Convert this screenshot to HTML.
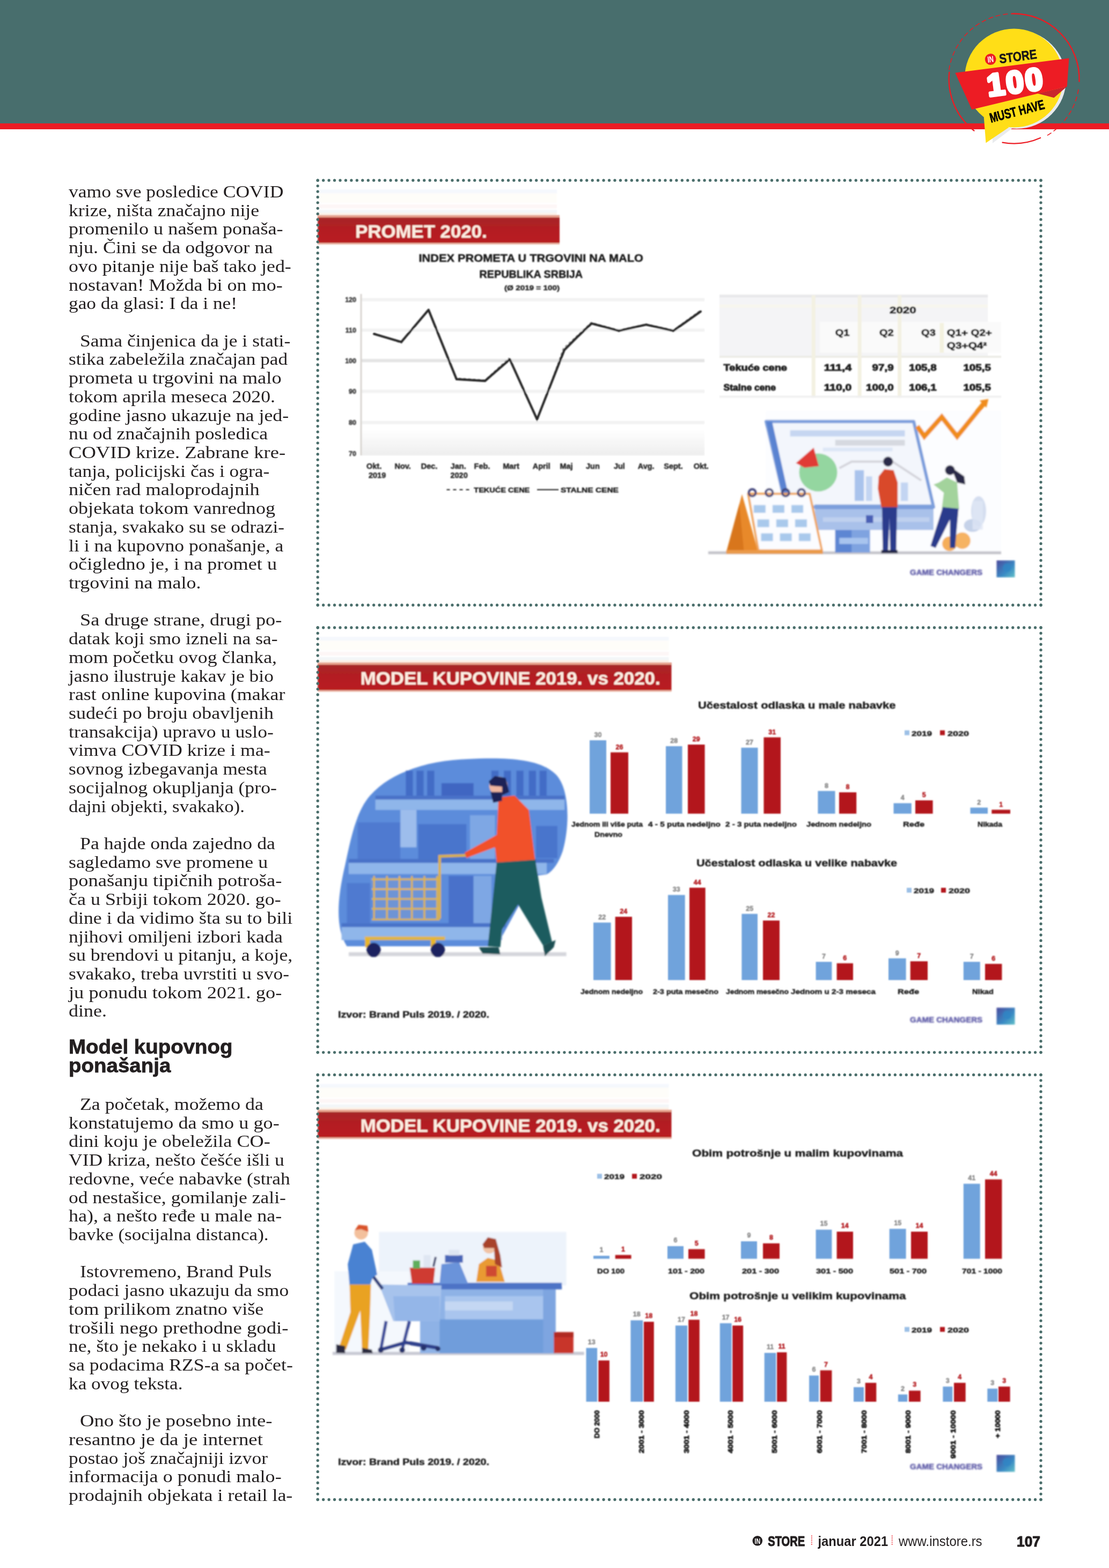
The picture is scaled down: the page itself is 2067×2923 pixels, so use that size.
<!DOCTYPE html>
<html lang="sr">
<head>
<meta charset="utf-8">
<title>IN STORE - januar 2021 - 107</title>
<style>
html,body{margin:0;padding:0;background:#fff;}
body{width:2067px;height:2923px;position:relative;overflow:hidden;font-family:"Liberation Serif",serif;color:#231f20;}
.hd{position:absolute;left:0;top:0;width:2067px;height:232px;background:#486e6d;}
.rb{position:absolute;left:0;top:230.3px;width:2067px;height:10.8px;background:#ec1c24;}
.l{position:absolute;white-space:pre;font-family:"Liberation Serif",serif;font-size:32.5px;line-height:40px;height:40px;color:#231f20;margin:0;transform-origin:0 0;}
.h{position:absolute;white-space:pre;font-family:"Liberation Sans",sans-serif;font-weight:bold;font-size:37.5px;line-height:44px;height:44px;color:#231f20;margin:0;transform-origin:0 0;-webkit-text-stroke:0.8px #231f20;}
.pn{position:absolute;left:0;top:0;}
.ft{position:absolute;white-space:pre;font-family:"Liberation Sans",sans-serif;color:#231f20;line-height:32px;height:32px;transform-origin:0 50%;}
svg text{white-space:pre;}
</style>
</head>
<body>
<div class="hd"></div>
<div class="rb"></div>

<div id="col">
<p class="l" style="left:127.6px;top:336.9px;transform:scaleX(1.0953)">vamo sve posledice COVID</p>
<p class="l" style="left:127.6px;top:371.6px;transform:scaleX(1.0992)">krize, ništa značajno nije</p>
<p class="l" style="left:127.6px;top:406.4px;transform:scaleX(1.1155)">promenilo u našem ponaša-</p>
<p class="l" style="left:127.6px;top:441.1px;transform:scaleX(1.1090)">nju. Čini se da odgovor na</p>
<p class="l" style="left:127.6px;top:475.8px;transform:scaleX(1.1021)">ovo pitanje nije baš tako jed-</p>
<p class="l" style="left:127.6px;top:510.5px;transform:scaleX(1.1101)">nostavan! Možda bi on mo-</p>
<p class="l" style="left:127.6px;top:545.2px;transform:scaleX(1.0876)">gao da glasi: I da i ne!</p>
<p class="l" style="left:148.6px;top:614.6px;transform:scaleX(1.0950)">Sama činjenica da je i stati-</p>
<p class="l" style="left:127.6px;top:649.4px;transform:scaleX(1.0847)">stika zabeležila značajan pad</p>
<p class="l" style="left:127.6px;top:684.1px;transform:scaleX(1.1231)">prometa u trgovini na malo</p>
<p class="l" style="left:127.6px;top:718.8px;transform:scaleX(1.0995)">tokom aprila meseca 2020.</p>
<p class="l" style="left:127.6px;top:753.5px;transform:scaleX(1.1032)">godine jasno ukazuje na jed-</p>
<p class="l" style="left:127.6px;top:788.2px;transform:scaleX(1.1024)">nu od značajnih posledica</p>
<p class="l" style="left:127.6px;top:822.9px;transform:scaleX(1.1252)">COVID krize. Zabrane kre-</p>
<p class="l" style="left:127.6px;top:857.6px;transform:scaleX(1.0882)">tanja, policijski čas i ogra-</p>
<p class="l" style="left:127.6px;top:892.4px;transform:scaleX(1.1197)">ničen rad maloprodajnih</p>
<p class="l" style="left:127.6px;top:927.1px;transform:scaleX(1.1109)">objekata tokom vanrednog</p>
<p class="l" style="left:127.6px;top:961.8px;transform:scaleX(1.0835)">stanja, svakako su se odrazi-</p>
<p class="l" style="left:127.6px;top:996.5px;transform:scaleX(1.0980)">li i na kupovno ponašanje, a</p>
<p class="l" style="left:127.6px;top:1031.2px;transform:scaleX(1.1137)">očigledno je, i na promet u</p>
<p class="l" style="left:127.6px;top:1065.9px;transform:scaleX(1.1081)">trgovini na malo.</p>
<p class="l" style="left:148.6px;top:1135.4px;transform:scaleX(1.1178)">Sa druge strane, drugi po-</p>
<p class="l" style="left:127.6px;top:1170.1px;transform:scaleX(1.0928)">datak koji smo izneli na sa-</p>
<p class="l" style="left:127.6px;top:1204.8px;transform:scaleX(1.1023)">mom početku ovog članka,</p>
<p class="l" style="left:127.6px;top:1239.5px;transform:scaleX(1.0905)">jasno ilustruje kakav je bio</p>
<p class="l" style="left:127.6px;top:1274.2px;transform:scaleX(1.1036)">rast online kupovina (makar</p>
<p class="l" style="left:127.6px;top:1308.9px;transform:scaleX(1.1047)">sudeći po broju obavljenih</p>
<p class="l" style="left:127.6px;top:1343.6px;transform:scaleX(1.0991)">transakcija) upravo u uslo-</p>
<p class="l" style="left:127.6px;top:1378.4px;transform:scaleX(1.1013)">vimva COVID krize i ma-</p>
<p class="l" style="left:127.6px;top:1413.1px;transform:scaleX(1.0834)">sovnog izbegavanja mesta</p>
<p class="l" style="left:127.6px;top:1447.8px;transform:scaleX(1.1023)">socijalnog okupljanja (pro-</p>
<p class="l" style="left:127.6px;top:1482.5px;transform:scaleX(1.0751)">dajni objekti, svakako).</p>
<p class="l" style="left:148.6px;top:1551.9px;transform:scaleX(1.1020)">Pa hajde onda zajedno da</p>
<p class="l" style="left:127.6px;top:1586.6px;transform:scaleX(1.1024)">sagledamo sve promene u</p>
<p class="l" style="left:127.6px;top:1621.3px;transform:scaleX(1.1229)">ponašanju tipičnih potroša-</p>
<p class="l" style="left:127.6px;top:1656.1px;transform:scaleX(1.1069)">ča u Srbiji tokom 2020. go-</p>
<p class="l" style="left:127.6px;top:1690.8px;transform:scaleX(1.1032)">dine i da vidimo šta su to bili</p>
<p class="l" style="left:127.6px;top:1725.5px;transform:scaleX(1.1018)">njihovi omiljeni izbori kada</p>
<p class="l" style="left:127.6px;top:1760.2px;transform:scaleX(1.1034)">su brendovi u pitanju, a koje,</p>
<p class="l" style="left:127.6px;top:1794.9px;transform:scaleX(1.0922)">svakako, treba uvrstiti u svo-</p>
<p class="l" style="left:127.6px;top:1829.6px;transform:scaleX(1.1198)">ju ponudu tokom 2021. go-</p>
<p class="l" style="left:127.6px;top:1864.3px;transform:scaleX(1.1062)">dine.</p>
<p class="l" style="left:148.6px;top:2037.9px;transform:scaleX(1.1011)">Za početak, možemo da</p>
<p class="l" style="left:127.6px;top:2072.6px;transform:scaleX(1.1155)">konstatujemo da smo u go-</p>
<p class="l" style="left:127.6px;top:2107.3px;transform:scaleX(1.1130)">dini koju je obeležila CO-</p>
<p class="l" style="left:127.6px;top:2142.1px;transform:scaleX(1.0969)">VID kriza, nešto češće išli u</p>
<p class="l" style="left:127.6px;top:2176.8px;transform:scaleX(1.0890)">redovne, veće nabavke (strah</p>
<p class="l" style="left:127.6px;top:2211.5px;transform:scaleX(1.0945)">od nestašice, gomilanje zali-</p>
<p class="l" style="left:127.6px;top:2246.2px;transform:scaleX(1.1091)">ha), a nešto ređe u male na-</p>
<p class="l" style="left:127.6px;top:2280.9px;transform:scaleX(1.0780)">bavke (socijalna distanca).</p>
<p class="l" style="left:148.6px;top:2350.3px;transform:scaleX(1.1084)">Istovremeno, Brand Puls</p>
<p class="l" style="left:127.6px;top:2385.1px;transform:scaleX(1.0925)">podaci jasno ukazuju da smo</p>
<p class="l" style="left:127.6px;top:2419.8px;transform:scaleX(1.1152)">tom prilikom znatno više</p>
<p class="l" style="left:127.6px;top:2454.5px;transform:scaleX(1.1316)">trošili nego prethodne godi-</p>
<p class="l" style="left:127.6px;top:2489.2px;transform:scaleX(1.0951)">ne, što je nekako i u skladu</p>
<p class="l" style="left:127.6px;top:2523.9px;transform:scaleX(1.1025)">sa podacima RZS-a sa počet-</p>
<p class="l" style="left:127.6px;top:2558.6px;transform:scaleX(1.0850)">ka ovog teksta.</p>
<p class="l" style="left:148.6px;top:2628.1px;transform:scaleX(1.1280)">Ono što je posebno inte-</p>
<p class="l" style="left:127.6px;top:2662.8px;transform:scaleX(1.1329)">resantno je da je internet</p>
<p class="l" style="left:127.6px;top:2697.5px;transform:scaleX(1.0906)">postao još značajniji izvor</p>
<p class="l" style="left:127.6px;top:2732.2px;transform:scaleX(1.1127)">informacija o ponudi malo-</p>
<p class="l" style="left:127.6px;top:2766.9px;transform:scaleX(1.1063)">prodajnih objekata i retail la-</p>
</div>
<h2 class="h" style="left:128.4px;top:1929.0px;transform:scaleX(1.0255)">Model kupovnog</h2>
<h2 class="h" style="left:128.4px;top:1963.9px;transform:scaleX(1.0260)">ponašanja</h2>
<svg class="pn" width="2067" height="2923" viewBox="0 0 2067 2923">
<path d="M1768.8 130.5A122 122 0 0 1 1881.1 25.8" fill="none" stroke="#ec1c24" stroke-width="1.5" stroke-dasharray="9 5"/>
<path d="M2010.1 166.6A122 122 0 0 1 1950.6 253.2" fill="none" stroke="#ec1c24" stroke-width="1.5" stroke-dasharray="9 5"/>
<path d="M1885.3 25.6A122 122 0 0 1 2011.5 151.8" fill="none" stroke="#ec1c24" stroke-width="2.4" stroke-linecap="round"/>
<path d="M1939.2 257.0A122 122 0 0 1 1868.4 265.6" fill="none" stroke="#ec1c24" stroke-width="2.2" stroke-linecap="round"/>
<path d="M1815.5 243.6A122 122 0 0 1 1769.3 134.7" fill="none" stroke="#ec1c24" stroke-width="2.4" stroke-linecap="round"/>
<circle cx="1895" cy="148" r="92" fill="#e9ebee"/>
<polygon points="1850.8,221.7 1849.9,266.9 1887.8,238.3" fill="#e9ebee"/>
<circle cx="1890" cy="145.4" r="92" fill="#ffde17"/>
<polygon points="1833.3,212.4 1837.5,266.4 1880.4,237.4" fill="#ffde17"/>
<polygon points="1934.0,174.2 1964.4,182.3 1989.0,161.1" fill="#c9252c"/>
<polygon points="1780.3,135.8 1992.5,108.4 1988.8,161.3 1811.3,204.3" fill="#ed1c24"/>
<g transform="rotate(-7 1846.2 110.5)"><circle cx="1846.2" cy="110.5" r="10.4" fill="#ed1c24"/><text x="1846.2" y="116.1" font-family="Liberation Sans, sans-serif" font-weight="bold" font-size="16" fill="#fff" text-anchor="middle" transform="translate(1846.2 0) scale(0.72 1) translate(-1846.2 0)">IN</text></g>
<text transform="translate(1863.4 118.2) rotate(-7.5) scale(0.84 1)" font-family="Liberation Sans, sans-serif" font-weight="bold" font-size="24.5" fill="#1a1718" stroke="#1a1718" stroke-width="0.6">STORE</text>
<text transform="translate(1842.5 179.6) rotate(-7.5) scale(1.0 1)" font-family="Liberation Sans, sans-serif" font-weight="bold" font-size="58" fill="#fff" stroke="#fff" stroke-width="5.5" stroke-linejoin="round" letter-spacing="3.5">100</text>
<text transform="translate(1847.1 228.7) rotate(-14.5) scale(0.72 1)" font-family="Liberation Sans, sans-serif" font-weight="bold" font-size="25" fill="#000" stroke="#000" stroke-width="0.7">MUST HAVE</text>
</svg>
<svg class="pn" width="2067" height="2923" viewBox="0 0 2067 2923" font-family="Liberation Sans, sans-serif">
<defs>
<filter id="b1" x="-5%" y="-5%" width="110%" height="110%"><feGaussianBlur stdDeviation="1.1"/></filter>
<filter id="b2" x="-5%" y="-5%" width="110%" height="110%"><feGaussianBlur stdDeviation="1.8"/></filter>
<filter id="b0" x="-5%" y="-5%" width="110%" height="110%"><feGaussianBlur stdDeviation="0.7"/></filter>
<linearGradient id="bn" x1="0" y1="0" x2="0" y2="1"><stop offset="0" stop-color="#a4282a"/><stop offset="0.5" stop-color="#b41d22"/><stop offset="1" stop-color="#b9201f"/></linearGradient>
<linearGradient id="gb" x1="0" y1="0" x2="0" y2="1"><stop offset="0" stop-color="#ffffff"/><stop offset="1" stop-color="#eeeeee"/></linearGradient>
<linearGradient id="ip" x1="0" y1="0" x2="1" y2="1"><stop offset="0" stop-color="#4a4a9c"/><stop offset="0.6" stop-color="#3a8ac4"/><stop offset="1" stop-color="#62c0c8"/></linearGradient>
</defs>
<g filter="url(#b1)">
<rect x="592.2" y="353.2" width="445.8" height="7.0" fill="#f5f8fd" />
<rect x="592.2" y="360.2" width="445.8" height="18.0" fill="#fefdf9" />
<rect x="592.2" y="381.2" width="445.8" height="7.0" fill="#fdf6f6" />
<rect x="592.2" y="391.2" width="445.8" height="6.0" fill="#f3f6f8" />
<rect x="592.2" y="397.2" width="445.8" height="4.2" fill="#fdf1e6" />
<rect x="592.2" y="401.4" width="450.8" height="52.8" fill="url(#bn)" />
<rect x="592.2" y="401.4" width="450.8" height="4.0" fill="#e9a48e" />
<rect x="592.2" y="452.7" width="450.8" height="3.0" fill="#e9b3a2" />
<text x="662.2" y="442.5" font-size="32.5" font-weight="bold" fill="#fdeee2" text-anchor="start" textLength="245.4" lengthAdjust="spacingAndGlyphs" stroke="#fdeee2" stroke-width="0.3" >PROMET 2020.</text>
</g>
<g filter="url(#b1)">
<rect x="674.0" y="555.6" width="639.0" height="6.0" fill="#f2f2f2" />
<rect x="674.0" y="612.4" width="639.0" height="6.0" fill="#f2f2f2" />
<rect x="674.0" y="669.2" width="639.0" height="6.0" fill="#e4e4e4" />
<rect x="674.0" y="726.5" width="639.0" height="6.0" fill="#f2f2f2" />
<rect x="674.0" y="784.7" width="639.0" height="6.0" fill="#f2f2f2" />
<rect x="674.0" y="842.0" width="639.0" height="6.0" fill="#f2f2f2" />
<rect x="674.0" y="800.0" width="639.0" height="49.0" fill="url(#gb)" />
<rect x="671.5" y="548.0" width="3.0" height="301.0" fill="#d8d4d0" />
<text x="664.0" y="563.1" font-size="12.5" font-weight="bold" fill="#3a3a3a" text-anchor="end" stroke="#3a3a3a" stroke-width="0.5" >120</text>
<text x="664.0" y="619.9" font-size="12.5" font-weight="bold" fill="#3a3a3a" text-anchor="end" stroke="#3a3a3a" stroke-width="0.5" >110</text>
<text x="664.0" y="676.7" font-size="12.5" font-weight="bold" fill="#3a3a3a" text-anchor="end" stroke="#3a3a3a" stroke-width="0.5" >100</text>
<text x="664.0" y="734.0" font-size="12.5" font-weight="bold" fill="#3a3a3a" text-anchor="end" stroke="#3a3a3a" stroke-width="0.5" >90</text>
<text x="664.0" y="792.2" font-size="12.5" font-weight="bold" fill="#3a3a3a" text-anchor="end" stroke="#3a3a3a" stroke-width="0.5" >80</text>
<text x="664.0" y="849.5" font-size="12.5" font-weight="bold" fill="#3a3a3a" text-anchor="end" stroke="#3a3a3a" stroke-width="0.5" >70</text>
<polyline points="697.1,620.5 747.9,639.9 798.7,576.2 849.5,704.6 904.0,708.3 948.4,667.6 1001.0,784.9 1050.0,649.2 1074.0,627.0 1101.7,601.1 1153.4,615.0 1204.2,603.9 1255.0,615.0 1305.8,578.0" fill="none" stroke="#555" stroke-width="1.6" stroke-dasharray="5 4" stroke-linejoin="round" opacity="0.75"/>
<polyline points="697.1,622.4 747.9,637.6 798.7,577.6 850.9,706.9 904.0,710.1 950.2,669.9 1001.0,781.7 1051.8,652.4 1074.9,629.3 1102.6,603.0 1153.4,616.8 1204.2,605.3 1255.0,616.8 1305.8,580.8" fill="none" stroke="#262626" stroke-width="4.2" stroke-linejoin="round" stroke-linecap="round"/>
<text x="780.5" y="487.5" font-size="19.5" font-weight="bold" fill="#1d1d1d" text-anchor="start" textLength="418.5" lengthAdjust="spacingAndGlyphs" stroke="#1d1d1d" stroke-width="0.5" >INDEX PROMETA U TRGOVINI NA MALO</text>
<text x="893.6" y="517.5" font-size="19.5" font-weight="bold" fill="#1d1d1d" text-anchor="start" textLength="192.5" lengthAdjust="spacingAndGlyphs" stroke="#1d1d1d" stroke-width="0.5" >REPUBLIKA SRBIJA</text>
<text x="940.0" y="540.5" font-size="12.5" font-weight="bold" fill="#2a2a2a" text-anchor="start" textLength="103.0" lengthAdjust="spacingAndGlyphs" stroke="#2a2a2a" stroke-width="0.5" >(Ø 2019 = 100)</text>
<text x="697.1" y="874.1" font-size="14.5" font-weight="bold" fill="#2a2a2a" text-anchor="middle" stroke="#2a2a2a" stroke-width="0.5" >Okt.</text>
<text x="750.7" y="874.1" font-size="14.5" font-weight="bold" fill="#2a2a2a" text-anchor="middle" stroke="#2a2a2a" stroke-width="0.5" >Nov.</text>
<text x="800.1" y="874.1" font-size="14.5" font-weight="bold" fill="#2a2a2a" text-anchor="middle" stroke="#2a2a2a" stroke-width="0.5" >Dec.</text>
<text x="854.2" y="874.1" font-size="14.5" font-weight="bold" fill="#2a2a2a" text-anchor="middle" stroke="#2a2a2a" stroke-width="0.5" >Jan.</text>
<text x="898.5" y="874.1" font-size="14.5" font-weight="bold" fill="#2a2a2a" text-anchor="middle" stroke="#2a2a2a" stroke-width="0.5" >Feb.</text>
<text x="952.5" y="874.1" font-size="14.5" font-weight="bold" fill="#2a2a2a" text-anchor="middle" stroke="#2a2a2a" stroke-width="0.5" >Mart</text>
<text x="1009.3" y="874.1" font-size="14.5" font-weight="bold" fill="#2a2a2a" text-anchor="middle" stroke="#2a2a2a" stroke-width="0.5" >April</text>
<text x="1055.5" y="874.1" font-size="14.5" font-weight="bold" fill="#2a2a2a" text-anchor="middle" stroke="#2a2a2a" stroke-width="0.5" >Maj</text>
<text x="1104.9" y="874.1" font-size="14.5" font-weight="bold" fill="#2a2a2a" text-anchor="middle" stroke="#2a2a2a" stroke-width="0.5" >Jun</text>
<text x="1154.4" y="874.1" font-size="14.5" font-weight="bold" fill="#2a2a2a" text-anchor="middle" stroke="#2a2a2a" stroke-width="0.5" >Jul</text>
<text x="1204.2" y="874.1" font-size="14.5" font-weight="bold" fill="#2a2a2a" text-anchor="middle" stroke="#2a2a2a" stroke-width="0.5" >Avg.</text>
<text x="1255.0" y="874.1" font-size="14.5" font-weight="bold" fill="#2a2a2a" text-anchor="middle" stroke="#2a2a2a" stroke-width="0.5" >Sept.</text>
<text x="1306.8" y="874.1" font-size="14.5" font-weight="bold" fill="#2a2a2a" text-anchor="middle" stroke="#2a2a2a" stroke-width="0.5" >Okt.</text>
<text x="703.1" y="891.2" font-size="14.5" font-weight="bold" fill="#2a2a2a" text-anchor="middle" stroke="#2a2a2a" stroke-width="0.5" >2019</text>
<text x="855.6" y="891.2" font-size="14.5" font-weight="bold" fill="#2a2a2a" text-anchor="middle" stroke="#2a2a2a" stroke-width="0.5" >2020</text>
<path d="M832.5 912.9h42" stroke="#333" stroke-width="2.2" stroke-dasharray="6 6" fill="none"/>
<text x="883.3" y="917.9" font-size="13.5" font-weight="bold" fill="#222" text-anchor="start" textLength="104.0" lengthAdjust="spacingAndGlyphs" stroke="#222" stroke-width="0.5" >TEKUĆE CENE</text>
<path d="M1001.0 912.9h40" stroke="#333" stroke-width="2.2" fill="none"/>
<text x="1044.9" y="917.9" font-size="13.5" font-weight="bold" fill="#222" text-anchor="start" textLength="108.0" lengthAdjust="spacingAndGlyphs" stroke="#222" stroke-width="0.5" >STALNE CENE</text>
</g>
<g filter="url(#b1)">
<rect x="1341.0" y="548.6" width="500.2" height="114.5" fill="#f4f4f6" />
<rect x="1341.0" y="549.8" width="500.2" height="4.6" fill="#e8e8ea" />
<rect x="1341.0" y="567.7" width="500.2" height="5.7" fill="#f8f6ee" />
<rect x="1528.1" y="600.2" width="337.9" height="57.3" fill="#fafafa" />
<rect x="1341.0" y="663.2" width="525.0" height="3.8" fill="#ecebe6" />
<rect x="1512.8" y="550.5" width="6.9" height="190.9" fill="#f3f1e2" />
<rect x="1598.7" y="550.5" width="6.9" height="190.9" fill="#f3f1e2" />
<rect x="1673.2" y="550.5" width="6.9" height="190.9" fill="#f3f1e2" />
<rect x="1751.5" y="602.1" width="7.6" height="55.4" fill="#f3f1df" />
<rect x="1341.0" y="737.6" width="525.0" height="3.8" fill="#f0f0f0" />
<text x="1707.6" y="584.0" font-size="16.5" font-weight="bold" fill="#1c1c1c" text-anchor="end" textLength="49.6" lengthAdjust="spacingAndGlyphs" stroke="#1c1c1c" stroke-width="0.9" >2020</text>
<text x="1583.5" y="626.0" font-size="16.5" font-weight="bold" fill="#1c1c1c" text-anchor="end" textLength="26.7" lengthAdjust="spacingAndGlyphs" stroke="#1c1c1c" stroke-width="0.9" >Q1</text>
<text x="1665.6" y="626.0" font-size="16.5" font-weight="bold" fill="#1c1c1c" text-anchor="end" textLength="26.7" lengthAdjust="spacingAndGlyphs" stroke="#1c1c1c" stroke-width="0.9" >Q2</text>
<text x="1743.8" y="626.0" font-size="16.5" font-weight="bold" fill="#1c1c1c" text-anchor="end" textLength="26.7" lengthAdjust="spacingAndGlyphs" stroke="#1c1c1c" stroke-width="0.9" >Q3</text>
<text x="1848.8" y="626.0" font-size="16.5" font-weight="bold" fill="#1c1c1c" text-anchor="end" textLength="84.0" lengthAdjust="spacingAndGlyphs" stroke="#1c1c1c" stroke-width="0.9" >Q1+ Q2+</text>
<text x="1839.3" y="650.0" font-size="16.5" font-weight="bold" fill="#1c1c1c" text-anchor="end" textLength="74.5" lengthAdjust="spacingAndGlyphs" stroke="#1c1c1c" stroke-width="0.9" >Q3+Q4²</text>
<text x="1348.6" y="690.9" font-size="16.5" font-weight="bold" fill="#1c1c1c" text-anchor="start" textLength="118.4" lengthAdjust="spacingAndGlyphs" stroke="#1c1c1c" stroke-width="0.9" >Tekuće cene</text>
<text x="1348.6" y="727.5" font-size="16.5" font-weight="bold" fill="#1c1c1c" text-anchor="start" textLength="97.4" lengthAdjust="spacingAndGlyphs" stroke="#1c1c1c" stroke-width="0.9" >Stalne cene</text>
<text x="1587.3" y="690.9" font-size="16.5" font-weight="bold" fill="#1c1c1c" text-anchor="end" textLength="51.5" lengthAdjust="spacingAndGlyphs" stroke="#1c1c1c" stroke-width="0.9" >111,4</text>
<text x="1587.3" y="727.5" font-size="16.5" font-weight="bold" fill="#1c1c1c" text-anchor="end" textLength="51.5" lengthAdjust="spacingAndGlyphs" stroke="#1c1c1c" stroke-width="0.9" >110,0</text>
<text x="1665.6" y="690.9" font-size="16.5" font-weight="bold" fill="#1c1c1c" text-anchor="end" textLength="40.1" lengthAdjust="spacingAndGlyphs" stroke="#1c1c1c" stroke-width="0.9" >97,9</text>
<text x="1665.6" y="727.5" font-size="16.5" font-weight="bold" fill="#1c1c1c" text-anchor="end" textLength="51.5" lengthAdjust="spacingAndGlyphs" stroke="#1c1c1c" stroke-width="0.9" >100,0</text>
<text x="1745.7" y="690.9" font-size="16.5" font-weight="bold" fill="#1c1c1c" text-anchor="end" textLength="51.5" lengthAdjust="spacingAndGlyphs" stroke="#1c1c1c" stroke-width="0.9" >105,8</text>
<text x="1745.7" y="727.5" font-size="16.5" font-weight="bold" fill="#1c1c1c" text-anchor="end" textLength="51.5" lengthAdjust="spacingAndGlyphs" stroke="#1c1c1c" stroke-width="0.9" >106,1</text>
<text x="1846.9" y="690.9" font-size="16.5" font-weight="bold" fill="#1c1c1c" text-anchor="end" textLength="51.5" lengthAdjust="spacingAndGlyphs" stroke="#1c1c1c" stroke-width="0.9" >105,5</text>
<text x="1846.9" y="727.5" font-size="16.5" font-weight="bold" fill="#1c1c1c" text-anchor="end" textLength="51.5" lengthAdjust="spacingAndGlyphs" stroke="#1c1c1c" stroke-width="0.9" >105,5</text>
</g>
<g filter="url(#b2)">
<rect x="1426.9" y="765.8" width="439.1" height="267.3" fill="#fcfdff" />
<rect x="1320.0" y="1027.8" width="546.0" height="5.3" fill="#c4c4ca" />
<polygon points="1428.1,785.7 1703.0,785.7 1740.0,945.3 1465.1,945.3" fill="#f3f6fc" stroke="#7b9edc" stroke-width="6" stroke-linejoin="round"/>
<polygon points="1428.1,785.7 1439.1,785.7 1474.6,945.3 1463.6,945.3" fill="#5a83d1" />
<rect x="1472.7" y="802.1" width="213.8" height="11.5" fill="#c6d6f1" />
<rect x="1556.7" y="820.0" width="129.8" height="10.7" fill="#d6d9e0" />
<rect x="1533.8" y="834.5" width="129.8" height="6.9" fill="#dde6f6" />
<rect x="1518.5" y="940.7" width="221.5" height="47.3" fill="#a9c1ea" />
<rect x="1518.5" y="940.7" width="221.5" height="8.4" fill="#7c9fdc" />
<rect x="1533.8" y="964.4" width="198.5" height="8.4" fill="#bfd0ef" />
<rect x="1614.0" y="960.5" width="13.4" height="14.5" fill="#4a5fb5" />
<rect x="1556.7" y="988.0" width="64.9" height="42.0" fill="#7fa3e0" />
<rect x="1556.7" y="988.0" width="30.5" height="42.0" fill="#5d86d3" />
<rect x="1564.4" y="1002.6" width="53.5" height="11.5" fill="#a8c4ee" />
<rect x="1593.0" y="876.5" width="17.2" height="57.3" fill="#a9c3ec" />
<rect x="1614.0" y="888.0" width="11.5" height="45.8" fill="#c3d5f2" />
<rect x="1678.9" y="899.5" width="13.4" height="34.4" fill="#c3d5f2" />
<polyline points="1564.4,872.7 1587.3,860.5 1663.6,860.5 1717.1,895.6" fill="none" stroke="#d3d3da" stroke-width="4" />
<circle cx="1525.0" cy="880.7" r="35.5" fill="#94d6a0" />
<polygon points="1483.4,863.2 1516.6,834.5 1526.2,868.9 1499.5,872.0" fill="#e03a36" />
<polygon points="1353.6,1030.0 1383.0,921.2 1413.5,1030.0" fill="#e8892b" />
<polygon points="1353.6,1030.0 1378.0,939.5 1386.8,1030.0" fill="#d8761c" />
<polygon points="1394.5,920.5 1509.0,920.5 1531.9,1026.2 1413.5,1026.2" fill="#fbfcff" stroke="#f0a558" stroke-width="4" stroke-linejoin="round"/>
<rect x="1353.6" y="1025.5" width="180.2" height="6.9" fill="#ea9a4a" />
<rect x="1404.8" y="941.5" width="22.1" height="14.5" fill="#a9c9ec" />
<rect x="1439.9" y="941.5" width="22.1" height="14.5" fill="#a9c9ec" />
<rect x="1475.0" y="941.5" width="22.1" height="14.5" fill="#a9c9ec" />
<rect x="1411.6" y="968.2" width="22.1" height="14.5" fill="#a9c9ec" />
<rect x="1446.8" y="968.2" width="22.1" height="14.5" fill="#a9c9ec" />
<rect x="1481.9" y="968.2" width="22.1" height="14.5" fill="#a9c9ec" />
<rect x="1418.5" y="994.2" width="22.1" height="14.5" fill="#a9c9ec" />
<rect x="1453.6" y="994.2" width="22.1" height="14.5" fill="#a9c9ec" />
<rect x="1488.8" y="994.2" width="22.1" height="14.5" fill="#a9c9ec" />
<circle cx="1402.1" cy="918.5" r="6.5" fill="none" stroke="#3c3f78" stroke-width="4"/>
<circle cx="1433.8" cy="918.5" r="6.5" fill="none" stroke="#3c3f78" stroke-width="4"/>
<circle cx="1464.3" cy="918.5" r="6.5" fill="none" stroke="#3c3f78" stroke-width="4"/>
<circle cx="1493.7" cy="918.5" r="6.5" fill="none" stroke="#3c3f78" stroke-width="4"/>
<ellipse cx="1824.0" cy="952.9" rx="14.0" ry="28.0" fill="#c3d0ea" opacity="0.7"/>
<ellipse cx="1812.6" cy="979.6" rx="16.0" ry="12.0" fill="#aebfe0" opacity="0.7"/>
<circle cx="1769.8" cy="1013.6" r="13.7" fill="#f4a548" opacity="0.9"/>
<circle cx="1793.5" cy="1007.9" r="15.3" fill="#f5ab52" opacity="0.9"/>
<rect x="1812.6" y="933.8" width="19.1" height="53.5" fill="#dfe6f5" opacity="0.8"/>
<circle cx="1655.2" cy="860.5" r="9.2" fill="#2b2c48" />
<polygon points="1637.7,888.0 1648.4,874.6 1665.6,876.5 1673.2,899.5 1673.2,946.0 1642.6,946.0 1636.2,910.9" fill="#d94a2c" />
<polygon points="1643.8,945.3 1672.0,945.3 1670.5,1029.3 1659.1,1029.3 1657.9,964.4 1655.2,1029.3 1645.3,1029.3" fill="#2b3b8c" />
<rect x="1642.6" y="1025.5" width="30.5" height="5.7" fill="#23254a" />
<circle cx="1770.6" cy="876.5" r="9.2" fill="#2b2c48" />
<polygon points="1772.5,870.8 1797.3,888.0 1799.2,903.3 1783.9,899.5" fill="#2b2c48" />
<polygon points="1749.6,899.5 1764.8,889.9 1783.9,899.5 1787.7,949.1 1755.3,949.1 1759.1,918.5 1740.0,903.3" fill="#a3d39c" />
<polygon points="1757.2,945.3 1786.6,948.3 1780.1,1021.6 1770.6,1021.6 1770.6,968.2 1743.8,1021.6 1734.3,1017.8" fill="#2b3b8c" />
<polyline points="1709.5,794.5 1722.8,813.5 1755.3,777.3 1783.9,813.5 1833.6,752.5" fill="none" stroke="#f08c1e" stroke-width="9" stroke-linejoin="miter"/>
<polygon points="1825.9,746.7 1842.3,743.7 1838.5,760.1" fill="#f08c1e" />
</g>
<g filter="url(#b2)">
<text x="1696.0" y="1071.7" font-size="15.5" font-weight="bold" fill="#5b58a6" text-anchor="start" textLength="135.0" lengthAdjust="spacingAndGlyphs" stroke="#5b58a6" stroke-width="0.5" >GAME CHANGERS</text>
<rect x="1857.5" y="1044.7" width="34.0" height="31.5" fill="url(#ip)" />
<circle cx="1877.0" cy="1058.2" r="8.0" fill="#2f86c4" opacity="0.8"/>
</g>
<g filter="url(#b1)">
<rect x="592.2" y="1187.0" width="654.3" height="7.0" fill="#f5f8fd" />
<rect x="592.2" y="1194.0" width="654.3" height="18.0" fill="#fefdf9" />
<rect x="592.2" y="1215.0" width="654.3" height="7.0" fill="#fdf6f6" />
<rect x="592.2" y="1225.0" width="654.3" height="6.0" fill="#f3f6f8" />
<rect x="592.2" y="1231.0" width="654.3" height="4.2" fill="#fdf1e6" />
<rect x="592.2" y="1235.2" width="659.3" height="52.8" fill="url(#bn)" />
<rect x="592.2" y="1235.2" width="659.3" height="4.0" fill="#e9a48e" />
<rect x="592.2" y="1286.5" width="659.3" height="3.0" fill="#e9b3a2" />
<text x="671.7" y="1276.3" font-size="32.5" font-weight="bold" fill="#fdeee2" text-anchor="start" textLength="559.0" lengthAdjust="spacingAndGlyphs" stroke="#fdeee2" stroke-width="0.3" >MODEL KUPOVINE 2019. vs 2020.</text>
</g>
<g filter="url(#b2)">
<path d="M689.8 1483.1 C729.7 1436.6 806.1 1416.6 872.6 1415.0 C939.1 1411.6 1005.6 1413.3 1035.6 1443.2 C1062.2 1469.8 1062.2 1539.7 1048.9 1586.2 C1042.2 1606.2 1032.2 1622.8 1018.9 1630.1 L997.3 1632.8 L925.8 1764.1 L646.5 1764.1 C626.6 1732.5 626.6 1682.6 643.2 1612.8 C653.2 1566.3 663.2 1513.1 689.8 1483.1Z" fill="#5c8cdb"/>
<rect x="649.9" y="1775.1" width="405.7" height="7.3" fill="#d5d6dc" />
<rect x="699.7" y="1489.8" width="352.5" height="20.0" fill="#8fb6ea" />
<rect x="649.9" y="1607.8" width="369.1" height="21.6" fill="#8fb6ea" />
<rect x="636.6" y="1727.5" width="299.3" height="24.9" fill="#8fb6ea" />
<rect x="699.7" y="1483.1" width="352.5" height="7.3" fill="#4a72c8" />
<rect x="649.9" y="1601.2" width="382.4" height="7.3" fill="#4a72c8" />
<rect x="636.6" y="1720.9" width="305.9" height="7.3" fill="#4a72c8" />
<rect x="756.3" y="1436.6" width="13.3" height="46.6" fill="#426cc6" />
<rect x="776.2" y="1436.6" width="13.3" height="46.6" fill="#426cc6" />
<rect x="796.2" y="1436.6" width="13.3" height="46.6" fill="#426cc6" />
<rect x="915.9" y="1436.6" width="13.3" height="46.6" fill="#426cc6" />
<rect x="939.1" y="1436.6" width="13.3" height="46.6" fill="#426cc6" />
<rect x="962.4" y="1436.6" width="13.3" height="46.6" fill="#426cc6" />
<rect x="985.7" y="1436.6" width="13.3" height="46.6" fill="#426cc6" />
<rect x="1005.6" y="1436.6" width="13.3" height="46.6" fill="#426cc6" />
<rect x="822.8" y="1459.9" width="59.9" height="23.3" fill="#3f66c2" />
<rect x="666.5" y="1533.0" width="79.8" height="68.2" fill="#4f7ad0" />
<rect x="746.3" y="1509.7" width="29.9" height="69.8" fill="#9dbdec" />
<rect x="779.5" y="1536.3" width="89.8" height="64.8" fill="#4a74cc" />
<rect x="876.0" y="1519.7" width="46.6" height="81.5" fill="#7ea7e4" />
<rect x="999.0" y="1539.7" width="39.9" height="59.9" fill="#4a74cc" />
<rect x="646.5" y="1646.1" width="43.2" height="74.8" fill="#4f7ad0" />
<rect x="836.1" y="1632.8" width="46.6" height="88.1" fill="#4871ca" />
<rect x="882.6" y="1632.8" width="33.3" height="88.1" fill="#7ea7e4" />
<polygon points="689.8,1636.1 822.8,1636.1 817.8,1714.2 701.4,1714.2" fill="#7d9ad0" opacity="0.55"/>
<rect x="693.1" y="1637.7" width="126.4" height="3.0" fill="#e3b63a" />
<rect x="693.1" y="1656.0" width="126.4" height="3.0" fill="#e3b63a" />
<rect x="693.1" y="1674.3" width="126.4" height="3.0" fill="#e3b63a" />
<rect x="693.1" y="1692.6" width="126.4" height="3.0" fill="#e3b63a" />
<rect x="693.1" y="1712.6" width="126.4" height="3.0" fill="#e3b63a" />
<rect x="695.7" y="1632.8" width="3.0" height="81.5" fill="#e3b63a" />
<rect x="719.7" y="1632.8" width="3.0" height="81.5" fill="#e3b63a" />
<rect x="743.0" y="1632.8" width="3.0" height="81.5" fill="#e3b63a" />
<rect x="766.2" y="1632.8" width="3.0" height="81.5" fill="#e3b63a" />
<rect x="789.5" y="1632.8" width="3.0" height="81.5" fill="#e3b63a" />
<rect x="813.4" y="1632.8" width="3.0" height="81.5" fill="#e3b63a" />
<polyline points="819.4,1712.6 819.4,1596.2 869.3,1594.5" fill="none" stroke="#d9b04a" stroke-width="5" />
<rect x="679.8" y="1745.8" width="149.6" height="6.7" fill="#e0b545" />
<rect x="680.4" y="1749.1" width="9.3" height="16.6" fill="#e8b62c" />
<rect x="802.8" y="1749.1" width="9.3" height="16.6" fill="#e8b62c" />
<circle cx="696.4" cy="1770.8" r="13.3" fill="#1c2460" />
<circle cx="816.1" cy="1770.8" r="13.3" fill="#1c2460" />
<polygon points="925.8,1606.2 997.3,1599.5 1009.0,1672.7 1028.9,1755.8 1012.3,1762.4 965.7,1686.0 935.8,1732.5 932.5,1765.8 909.2,1764.1 917.5,1686.0" fill="#1c5c5e" />
<polygon points="892.6,1765.8 929.2,1765.8 932.5,1779.1 899.2,1777.4" fill="#1c4f52" />
<polygon points="1012.3,1762.4 1035.6,1752.5 1032.2,1765.8 1015.6,1782.4" fill="#1c4f52" />
<polygon points="929.2,1486.5 959.1,1483.1 985.7,1509.7 997.3,1602.8 925.8,1607.8 922.5,1579.6 869.3,1599.5 866.0,1589.5 925.8,1556.3" fill="#f1512b" />
<circle cx="929.2" cy="1464.8" r="17.3" fill="#f0b7a0" />
<polygon points="910.9,1456.5 922.5,1446.6 942.5,1449.9 949.1,1476.5 935.8,1483.1 935.8,1466.5 914.2,1464.8" fill="#1d2457" />
<polygon points="914.2,1476.5 935.8,1476.5 935.8,1493.1 919.2,1496.4" fill="#1d2457" />
</g>
<g filter="url(#b1)">
<text x="630.0" y="1897.0" font-size="16" font-weight="bold" fill="#222" text-anchor="start" textLength="282.0" lengthAdjust="spacingAndGlyphs" stroke="#222" stroke-width="0.5" >Izvor: Brand Puls 2019. / 2020.</text>
</g>
<g filter="url(#b1)">
<text x="1301.0" y="1321.0" font-size="19" font-weight="bold" fill="#1d1d1d" text-anchor="start" textLength="368.5" lengthAdjust="spacingAndGlyphs" stroke="#1d1d1d" stroke-width="0.5" >Učestalost odlaska u male nabavke</text>
<rect x="1099.0" y="1380.0" width="31.0" height="136.8" fill="#6fa3dc" />
<rect x="1138.0" y="1402.5" width="33.0" height="114.3" fill="#b3191c" />
<rect x="1241.0" y="1391.0" width="30.5" height="125.8" fill="#6fa3dc" />
<rect x="1282.0" y="1388.0" width="31.6" height="128.8" fill="#b3191c" />
<rect x="1381.5" y="1393.8" width="31.0" height="123.0" fill="#6fa3dc" />
<rect x="1423.5" y="1374.5" width="31.5" height="142.3" fill="#b3191c" />
<rect x="1524.4" y="1474.5" width="32.1" height="42.3" fill="#6fa3dc" />
<rect x="1564.0" y="1477.0" width="32.2" height="39.8" fill="#b3191c" />
<rect x="1665.5" y="1497.3" width="33.3" height="19.5" fill="#6fa3dc" />
<rect x="1706.0" y="1492.0" width="32.6" height="24.8" fill="#b3191c" />
<rect x="1808.5" y="1505.5" width="32.5" height="11.3" fill="#6fa3dc" />
<rect x="1848.3" y="1509.5" width="34.7" height="7.3" fill="#b3191c" />
<text x="1114.5" y="1374.0" font-size="12.5" font-weight="bold" fill="#8a8a8a" text-anchor="middle" stroke="#8a8a8a" stroke-width="0.5" >30</text>
<text x="1154.5" y="1396.5" font-size="12.5" font-weight="bold" fill="#b3191c" text-anchor="middle" stroke="#b3191c" stroke-width="0.5" >26</text>
<text x="1256.2" y="1385.0" font-size="12.5" font-weight="bold" fill="#8a8a8a" text-anchor="middle" stroke="#8a8a8a" stroke-width="0.5" >28</text>
<text x="1297.8" y="1382.0" font-size="12.5" font-weight="bold" fill="#b3191c" text-anchor="middle" stroke="#b3191c" stroke-width="0.5" >29</text>
<text x="1397.0" y="1387.8" font-size="12.5" font-weight="bold" fill="#8a8a8a" text-anchor="middle" stroke="#8a8a8a" stroke-width="0.5" >27</text>
<text x="1439.2" y="1368.5" font-size="12.5" font-weight="bold" fill="#b3191c" text-anchor="middle" stroke="#b3191c" stroke-width="0.5" >31</text>
<text x="1540.5" y="1468.5" font-size="12.5" font-weight="bold" fill="#8a8a8a" text-anchor="middle" stroke="#8a8a8a" stroke-width="0.5" >8</text>
<text x="1580.1" y="1471.0" font-size="12.5" font-weight="bold" fill="#b3191c" text-anchor="middle" stroke="#b3191c" stroke-width="0.5" >8</text>
<text x="1682.2" y="1491.3" font-size="12.5" font-weight="bold" fill="#8a8a8a" text-anchor="middle" stroke="#8a8a8a" stroke-width="0.5" >4</text>
<text x="1722.3" y="1486.0" font-size="12.5" font-weight="bold" fill="#b3191c" text-anchor="middle" stroke="#b3191c" stroke-width="0.5" >5</text>
<text x="1824.8" y="1499.5" font-size="12.5" font-weight="bold" fill="#8a8a8a" text-anchor="middle" stroke="#8a8a8a" stroke-width="0.5" >2</text>
<text x="1865.7" y="1503.5" font-size="12.5" font-weight="bold" fill="#b3191c" text-anchor="middle" stroke="#b3191c" stroke-width="0.5" >1</text>
<rect x="1686.0" y="1361.5" width="9.0" height="9.0" fill="#9cc0e6" />
<text x="1699.0" y="1371.5" font-size="13.5" font-weight="bold" fill="#222" text-anchor="start" textLength="38.0" lengthAdjust="spacingAndGlyphs" stroke="#222" stroke-width="0.5" >2019</text>
<rect x="1752.0" y="1361.5" width="9.0" height="9.0" fill="#b3191c" />
<text x="1766.0" y="1371.5" font-size="13.5" font-weight="bold" fill="#222" text-anchor="start" textLength="40.0" lengthAdjust="spacingAndGlyphs" stroke="#222" stroke-width="0.5" >2020</text>
<text x="1065.0" y="1541.0" font-size="13.5" font-weight="bold" fill="#222" text-anchor="start" textLength="133.0" lengthAdjust="spacingAndGlyphs" stroke="#222" stroke-width="0.5" >Jednom ili više puta</text>
<text x="1208.0" y="1541.0" font-size="13.5" font-weight="bold" fill="#222" text-anchor="start" textLength="135.0" lengthAdjust="spacingAndGlyphs" stroke="#222" stroke-width="0.5" >4 - 5 puta nedeljno</text>
<text x="1352.0" y="1541.0" font-size="13.5" font-weight="bold" fill="#222" text-anchor="start" textLength="133.0" lengthAdjust="spacingAndGlyphs" stroke="#222" stroke-width="0.5" >2 - 3 puta nedeljno</text>
<text x="1503.0" y="1541.0" font-size="13.5" font-weight="bold" fill="#222" text-anchor="start" textLength="121.0" lengthAdjust="spacingAndGlyphs" stroke="#222" stroke-width="0.5" >Jednom nedeljno</text>
<text x="1683.0" y="1541.0" font-size="13.5" font-weight="bold" fill="#222" text-anchor="start" textLength="40.0" lengthAdjust="spacingAndGlyphs" stroke="#222" stroke-width="0.5" >Ređe</text>
<text x="1822.0" y="1541.0" font-size="13.5" font-weight="bold" fill="#222" text-anchor="start" textLength="46.0" lengthAdjust="spacingAndGlyphs" stroke="#222" stroke-width="0.5" >Nikada</text>
<text x="1108.0" y="1560.0" font-size="13.5" font-weight="bold" fill="#222" text-anchor="start" textLength="52.0" lengthAdjust="spacingAndGlyphs" stroke="#222" stroke-width="0.5" >Dnevno</text>
<text x="1298.0" y="1615.0" font-size="19" font-weight="bold" fill="#1d1d1d" text-anchor="start" textLength="374.0" lengthAdjust="spacingAndGlyphs" stroke="#1d1d1d" stroke-width="0.5" >Učestalost odlaska u velike nabavke</text>
<rect x="1106.0" y="1719.8" width="32.6" height="107.2" fill="#6fa3dc" />
<rect x="1146.7" y="1709.0" width="31.3" height="118.0" fill="#b3191c" />
<rect x="1245.0" y="1668.4" width="31.7" height="158.6" fill="#6fa3dc" />
<rect x="1285.0" y="1654.8" width="29.7" height="172.2" fill="#b3191c" />
<rect x="1382.4" y="1703.6" width="29.6" height="123.4" fill="#6fa3dc" />
<rect x="1422.0" y="1716.0" width="31.0" height="111.0" fill="#b3191c" />
<rect x="1520.6" y="1793.0" width="29.8" height="34.0" fill="#6fa3dc" />
<rect x="1559.6" y="1795.7" width="30.4" height="31.3" fill="#b3191c" />
<rect x="1656.0" y="1786.5" width="32.6" height="40.5" fill="#6fa3dc" />
<rect x="1696.7" y="1792.0" width="32.3" height="35.0" fill="#b3191c" />
<rect x="1795.8" y="1793.0" width="30.9" height="34.0" fill="#6fa3dc" />
<rect x="1836.0" y="1796.8" width="31.4" height="30.2" fill="#b3191c" />
<text x="1122.3" y="1713.8" font-size="12.5" font-weight="bold" fill="#8a8a8a" text-anchor="middle" stroke="#8a8a8a" stroke-width="0.5" >22</text>
<text x="1162.3" y="1703.0" font-size="12.5" font-weight="bold" fill="#b3191c" text-anchor="middle" stroke="#b3191c" stroke-width="0.5" >24</text>
<text x="1260.8" y="1662.4" font-size="12.5" font-weight="bold" fill="#8a8a8a" text-anchor="middle" stroke="#8a8a8a" stroke-width="0.5" >33</text>
<text x="1299.8" y="1648.8" font-size="12.5" font-weight="bold" fill="#b3191c" text-anchor="middle" stroke="#b3191c" stroke-width="0.5" >44</text>
<text x="1397.2" y="1697.6" font-size="12.5" font-weight="bold" fill="#8a8a8a" text-anchor="middle" stroke="#8a8a8a" stroke-width="0.5" >25</text>
<text x="1437.5" y="1710.0" font-size="12.5" font-weight="bold" fill="#b3191c" text-anchor="middle" stroke="#b3191c" stroke-width="0.5" >22</text>
<text x="1535.5" y="1787.0" font-size="12.5" font-weight="bold" fill="#8a8a8a" text-anchor="middle" stroke="#8a8a8a" stroke-width="0.5" >7</text>
<text x="1574.8" y="1789.7" font-size="12.5" font-weight="bold" fill="#b3191c" text-anchor="middle" stroke="#b3191c" stroke-width="0.5" >6</text>
<text x="1672.3" y="1780.5" font-size="12.5" font-weight="bold" fill="#8a8a8a" text-anchor="middle" stroke="#8a8a8a" stroke-width="0.5" >9</text>
<text x="1712.8" y="1786.0" font-size="12.5" font-weight="bold" fill="#b3191c" text-anchor="middle" stroke="#b3191c" stroke-width="0.5" >7</text>
<text x="1811.2" y="1787.0" font-size="12.5" font-weight="bold" fill="#8a8a8a" text-anchor="middle" stroke="#8a8a8a" stroke-width="0.5" >7</text>
<text x="1851.7" y="1790.8" font-size="12.5" font-weight="bold" fill="#b3191c" text-anchor="middle" stroke="#b3191c" stroke-width="0.5" >6</text>
<rect x="1690.0" y="1655.0" width="9.0" height="9.0" fill="#9cc0e6" />
<text x="1703.0" y="1665.0" font-size="13.5" font-weight="bold" fill="#222" text-anchor="start" textLength="38.0" lengthAdjust="spacingAndGlyphs" stroke="#222" stroke-width="0.5" >2019</text>
<rect x="1754.0" y="1655.0" width="9.0" height="9.0" fill="#b3191c" />
<text x="1768.0" y="1665.0" font-size="13.5" font-weight="bold" fill="#222" text-anchor="start" textLength="40.0" lengthAdjust="spacingAndGlyphs" stroke="#222" stroke-width="0.5" >2020</text>
<text x="1082.0" y="1853.0" font-size="13.5" font-weight="bold" fill="#222" text-anchor="start" textLength="116.0" lengthAdjust="spacingAndGlyphs" stroke="#222" stroke-width="0.5" >Jednom nedeljno</text>
<text x="1217.0" y="1853.0" font-size="13.5" font-weight="bold" fill="#222" text-anchor="start" textLength="122.0" lengthAdjust="spacingAndGlyphs" stroke="#222" stroke-width="0.5" >2-3 puta mesečno</text>
<text x="1353.0" y="1853.0" font-size="13.5" font-weight="bold" fill="#222" text-anchor="start" textLength="117.0" lengthAdjust="spacingAndGlyphs" stroke="#222" stroke-width="0.5" >Jednom mesečno</text>
<text x="1474.0" y="1853.0" font-size="13.5" font-weight="bold" fill="#222" text-anchor="start" textLength="158.0" lengthAdjust="spacingAndGlyphs" stroke="#222" stroke-width="0.5" >Jednom u 2-3 meseca</text>
<text x="1673.0" y="1853.0" font-size="13.5" font-weight="bold" fill="#222" text-anchor="start" textLength="40.0" lengthAdjust="spacingAndGlyphs" stroke="#222" stroke-width="0.5" >Ređe</text>
<text x="1812.0" y="1853.0" font-size="13.5" font-weight="bold" fill="#222" text-anchor="start" textLength="40.0" lengthAdjust="spacingAndGlyphs" stroke="#222" stroke-width="0.5" >Nikad</text>
</g>
<g filter="url(#b2)">
<text x="1696.0" y="1905.5" font-size="15.5" font-weight="bold" fill="#5b58a6" text-anchor="start" textLength="135.0" lengthAdjust="spacingAndGlyphs" stroke="#5b58a6" stroke-width="0.5" >GAME CHANGERS</text>
<rect x="1857.5" y="1878.5" width="34.0" height="31.5" fill="url(#ip)" />
<circle cx="1877.0" cy="1892.0" r="8.0" fill="#2f86c4" opacity="0.8"/>
</g>
<g filter="url(#b1)">
<rect x="592.2" y="2020.7" width="654.3" height="7.0" fill="#f5f8fd" />
<rect x="592.2" y="2027.7" width="654.3" height="18.0" fill="#fefdf9" />
<rect x="592.2" y="2048.7" width="654.3" height="7.0" fill="#fdf6f6" />
<rect x="592.2" y="2058.7" width="654.3" height="6.0" fill="#f3f6f8" />
<rect x="592.2" y="2064.7" width="654.3" height="4.2" fill="#fdf1e6" />
<rect x="592.2" y="2068.9" width="659.3" height="52.8" fill="url(#bn)" />
<rect x="592.2" y="2068.9" width="659.3" height="4.0" fill="#e9a48e" />
<rect x="592.2" y="2120.2" width="659.3" height="3.0" fill="#e9b3a2" />
<text x="671.7" y="2110.0" font-size="32.5" font-weight="bold" fill="#fdeee2" text-anchor="start" textLength="559.0" lengthAdjust="spacingAndGlyphs" stroke="#fdeee2" stroke-width="0.3" >MODEL KUPOVINE 2019. vs 2020.</text>
</g>
<g filter="url(#b2)">
<rect x="706.4" y="2296.5" width="349.1" height="99.8" fill="#edf3fb" />
<rect x="623.3" y="2369.7" width="139.7" height="153.0" fill="#f4f8fd" />
<rect x="619.9" y="2520.0" width="468.8" height="6.0" fill="#c9cad4" />
<rect x="782.9" y="2397.9" width="252.7" height="124.7" fill="#8eb2e6" />
<rect x="819.4" y="2459.4" width="206.2" height="63.2" fill="#6f9ddb" />
<rect x="829.4" y="2416.2" width="189.5" height="43.2" fill="#a9c5ee" />
<rect x="829.4" y="2426.2" width="126.4" height="16.6" fill="#c4d7f3" />
<rect x="1012.3" y="2402.9" width="23.3" height="119.7" fill="#7ea5e0" />
<rect x="759.6" y="2391.3" width="287.6" height="12.3" fill="#4d73c6" />
<polygon points="706.4,2394.6 822.8,2396.3 819.4,2462.8 733.0,2462.8" fill="#a7c3ec" />
<polygon points="733.0,2416.2 819.4,2416.2 819.4,2462.8 736.3,2462.8" fill="#94b6e8" />
<polyline points="693.1,2376.3 713.0,2402.9" fill="none" stroke="#33427e" stroke-width="6" />
<polyline points="719.7,2462.8 709.7,2516.0" fill="none" stroke="#3b4c9a" stroke-width="6" />
<polyline points="762.9,2462.8 749.6,2516.0" fill="none" stroke="#3b4c9a" stroke-width="6" />
<polyline points="709.7,2516.0 756.3,2502.7 816.1,2512.6" fill="none" stroke="#2f3f8c" stroke-width="7" />
<circle cx="709.7" cy="2516.6" r="5.3" fill="#27306c" />
<circle cx="749.6" cy="2516.6" r="5.3" fill="#27306c" />
<circle cx="789.5" cy="2512.6" r="5.3" fill="#27306c" />
<circle cx="816.1" cy="2514.3" r="4.7" fill="#27306c" />
<polygon points="763.6,2363.0 811.1,2363.0 807.8,2392.9 767.9,2392.9" fill="#cf3a30" />
<rect x="769.6" y="2349.7" width="13.3" height="15.0" fill="#5fae5c" />
<rect x="789.5" y="2339.7" width="13.3" height="23.3" fill="#dfe6f2" />
<polyline points="807.8,2361.3 812.1,2343.1" fill="none" stroke="#3b3f6c" stroke-width="4" />
<polygon points="822.8,2356.4 856.0,2353.0 872.6,2392.9 819.4,2392.9" fill="#6b93da" />
<rect x="829.4" y="2339.7" width="33.3" height="14.0" fill="#4a66b8" />
<rect x="836.1" y="2329.8" width="20.0" height="10.6" fill="#dfe6f2" />
<polygon points="887.6,2389.6 892.6,2356.4 909.2,2344.7 929.2,2349.7 940.8,2389.6" fill="#e99a30" />
<circle cx="911.9" cy="2324.8" r="12.0" fill="#f1c3a4" />
<polygon points="899.2,2319.8 909.2,2306.5 924.2,2309.8 932.5,2339.7 935.8,2363.0 922.5,2356.4 920.9,2326.4 902.6,2326.4" fill="#a8432c" />
<rect x="905.9" y="2359.7" width="20.0" height="20.0" fill="#cf4a32" />
<circle cx="673.1" cy="2298.2" r="12.6" fill="#f3c09c" />
<polygon points="661.5,2293.2 668.1,2283.2 684.8,2284.9 686.4,2296.5 673.1,2291.5" fill="#d9532a" />
<polygon points="658.2,2319.8 679.8,2314.8 693.1,2329.8 703.1,2376.3 694.7,2381.3 689.8,2396.3 651.5,2396.3 648.2,2356.4" fill="#4a82d2" />
<polygon points="651.5,2394.6 691.4,2394.6 689.8,2446.1 686.4,2516.0 674.8,2516.0 671.5,2442.8 644.9,2516.0 631.6,2512.6 653.2,2446.1" fill="#e9a223" />
<polygon points="626.6,2506.0 643.2,2509.3 643.2,2522.6 626.6,2521.9" fill="#2a2a40" />
<polygon points="674.8,2512.6 693.1,2516.0 694.7,2522.6 674.8,2522.6" fill="#2a2a40" />
<rect x="1032.2" y="2483.4" width="36.6" height="39.2" fill="#c8352c" />
<rect x="1032.2" y="2483.4" width="36.6" height="9.3" fill="#b02a24" />
</g>
<g filter="url(#b1)">
<text x="630.0" y="2730.7" font-size="16" font-weight="bold" fill="#222" text-anchor="start" textLength="282.0" lengthAdjust="spacingAndGlyphs" stroke="#222" stroke-width="0.5" >Izvor: Brand Puls 2019. / 2020.</text>
</g>
<g filter="url(#b1)">
<text x="1290.0" y="2156.2" font-size="19" font-weight="bold" fill="#1d1d1d" text-anchor="start" textLength="393.0" lengthAdjust="spacingAndGlyphs" stroke="#1d1d1d" stroke-width="0.5" >Obim potrošnje u malim kupovinama</text>
<rect x="1106.0" y="2341.0" width="30.0" height="5.5" fill="#6fa3dc" />
<rect x="1146.7" y="2339.5" width="29.8" height="7.0" fill="#b3191c" />
<rect x="1244.0" y="2323.0" width="30.0" height="23.5" fill="#6fa3dc" />
<rect x="1283.0" y="2328.6" width="30.6" height="17.9" fill="#b3191c" />
<rect x="1381.0" y="2314.0" width="30.0" height="32.5" fill="#6fa3dc" />
<rect x="1422.0" y="2317.8" width="31.0" height="28.7" fill="#b3191c" />
<rect x="1520.6" y="2292.3" width="29.8" height="54.2" fill="#6fa3dc" />
<rect x="1559.6" y="2296.0" width="30.4" height="50.5" fill="#b3191c" />
<rect x="1657.7" y="2290.7" width="30.9" height="55.8" fill="#6fa3dc" />
<rect x="1698.0" y="2296.0" width="31.0" height="50.5" fill="#b3191c" />
<rect x="1795.8" y="2206.7" width="30.9" height="139.8" fill="#6fa3dc" />
<rect x="1836.0" y="2198.6" width="31.4" height="147.9" fill="#b3191c" />
<text x="1121.0" y="2334.0" font-size="12.5" font-weight="bold" fill="#8a8a8a" text-anchor="middle" stroke="#8a8a8a" stroke-width="0.5" >1</text>
<text x="1161.6" y="2332.5" font-size="12.5" font-weight="bold" fill="#b3191c" text-anchor="middle" stroke="#b3191c" stroke-width="0.5" >1</text>
<text x="1259.0" y="2316.0" font-size="12.5" font-weight="bold" fill="#8a8a8a" text-anchor="middle" stroke="#8a8a8a" stroke-width="0.5" >6</text>
<text x="1298.3" y="2321.6" font-size="12.5" font-weight="bold" fill="#b3191c" text-anchor="middle" stroke="#b3191c" stroke-width="0.5" >5</text>
<text x="1396.0" y="2307.0" font-size="12.5" font-weight="bold" fill="#8a8a8a" text-anchor="middle" stroke="#8a8a8a" stroke-width="0.5" >9</text>
<text x="1437.5" y="2310.8" font-size="12.5" font-weight="bold" fill="#b3191c" text-anchor="middle" stroke="#b3191c" stroke-width="0.5" >8</text>
<text x="1535.5" y="2285.3" font-size="12.5" font-weight="bold" fill="#8a8a8a" text-anchor="middle" stroke="#8a8a8a" stroke-width="0.5" >15</text>
<text x="1574.8" y="2289.0" font-size="12.5" font-weight="bold" fill="#b3191c" text-anchor="middle" stroke="#b3191c" stroke-width="0.5" >14</text>
<text x="1673.2" y="2283.7" font-size="12.5" font-weight="bold" fill="#8a8a8a" text-anchor="middle" stroke="#8a8a8a" stroke-width="0.5" >15</text>
<text x="1713.5" y="2289.0" font-size="12.5" font-weight="bold" fill="#b3191c" text-anchor="middle" stroke="#b3191c" stroke-width="0.5" >14</text>
<text x="1811.2" y="2199.7" font-size="12.5" font-weight="bold" fill="#8a8a8a" text-anchor="middle" stroke="#8a8a8a" stroke-width="0.5" >41</text>
<text x="1851.7" y="2191.6" font-size="12.5" font-weight="bold" fill="#b3191c" text-anchor="middle" stroke="#b3191c" stroke-width="0.5" >44</text>
<rect x="1113.0" y="2188.2" width="9.0" height="9.0" fill="#9cc0e6" />
<text x="1126.0" y="2198.2" font-size="13.5" font-weight="bold" fill="#222" text-anchor="start" textLength="38.0" lengthAdjust="spacingAndGlyphs" stroke="#222" stroke-width="0.5" >2019</text>
<rect x="1178.0" y="2188.2" width="9.0" height="9.0" fill="#b3191c" />
<text x="1192.0" y="2198.2" font-size="13.5" font-weight="bold" fill="#222" text-anchor="start" textLength="42.0" lengthAdjust="spacingAndGlyphs" stroke="#222" stroke-width="0.5" >2020</text>
<text x="1113.0" y="2373.7" font-size="13.5" font-weight="bold" fill="#222" text-anchor="start" textLength="51.0" lengthAdjust="spacingAndGlyphs" stroke="#222" stroke-width="0.5" >DO 100</text>
<text x="1245.0" y="2373.7" font-size="13.5" font-weight="bold" fill="#222" text-anchor="start" textLength="68.0" lengthAdjust="spacingAndGlyphs" stroke="#222" stroke-width="0.5" >101 - 200</text>
<text x="1383.0" y="2373.7" font-size="13.5" font-weight="bold" fill="#222" text-anchor="start" textLength="69.0" lengthAdjust="spacingAndGlyphs" stroke="#222" stroke-width="0.5" >201 - 300</text>
<text x="1521.0" y="2373.7" font-size="13.5" font-weight="bold" fill="#222" text-anchor="start" textLength="69.0" lengthAdjust="spacingAndGlyphs" stroke="#222" stroke-width="0.5" >301 - 500</text>
<text x="1658.0" y="2373.7" font-size="13.5" font-weight="bold" fill="#222" text-anchor="start" textLength="69.0" lengthAdjust="spacingAndGlyphs" stroke="#222" stroke-width="0.5" >501 - 700</text>
<text x="1793.0" y="2373.7" font-size="13.5" font-weight="bold" fill="#222" text-anchor="start" textLength="75.0" lengthAdjust="spacingAndGlyphs" stroke="#222" stroke-width="0.5" >701 - 1000</text>
<text x="1285.0" y="2421.7" font-size="19" font-weight="bold" fill="#1d1d1d" text-anchor="start" textLength="403.5" lengthAdjust="spacingAndGlyphs" stroke="#1d1d1d" stroke-width="0.5" >Obim potrošnje u velikim kupovinama</text>
<rect x="1092.5" y="2512.8" width="20.6" height="100.2" fill="#6fa3dc" />
<rect x="1115.3" y="2536.1" width="20.6" height="76.9" fill="#b3191c" />
<text x="1102.8" y="2505.8" font-size="12.5" font-weight="bold" fill="#8a8a8a" text-anchor="middle" stroke="#8a8a8a" stroke-width="0.5" >13</text>
<text x="1125.6" y="2529.1" font-size="12.5" font-weight="bold" fill="#b3191c" text-anchor="middle" stroke="#b3191c" stroke-width="0.5" >10</text>
<text transform="translate(1116.7 2681.0) rotate(-90)" font-size="13.5" font-weight="bold" fill="#141414" textLength="52.0" lengthAdjust="spacingAndGlyphs" stroke="#141414" stroke-width="0.8" >DO 2000</text>
<rect x="1175.4" y="2461.3" width="22.8" height="151.7" fill="#6fa3dc" />
<rect x="1199.8" y="2464.0" width="19.0" height="149.0" fill="#b3191c" />
<text x="1186.8" y="2454.3" font-size="12.5" font-weight="bold" fill="#8a8a8a" text-anchor="middle" stroke="#8a8a8a" stroke-width="0.5" >18</text>
<text x="1209.3" y="2457.0" font-size="12.5" font-weight="bold" fill="#b3191c" text-anchor="middle" stroke="#b3191c" stroke-width="0.5" >18</text>
<text transform="translate(1199.6 2709.0) rotate(-90)" font-size="13.5" font-weight="bold" fill="#141414" textLength="80.0" lengthAdjust="spacingAndGlyphs" stroke="#141414" stroke-width="0.8" >2001 - 3000</text>
<rect x="1258.9" y="2471.0" width="22.2" height="142.0" fill="#6fa3dc" />
<rect x="1283.2" y="2460.2" width="20.6" height="152.8" fill="#b3191c" />
<text x="1270.0" y="2464.0" font-size="12.5" font-weight="bold" fill="#8a8a8a" text-anchor="middle" stroke="#8a8a8a" stroke-width="0.5" >17</text>
<text x="1293.5" y="2453.2" font-size="12.5" font-weight="bold" fill="#b3191c" text-anchor="middle" stroke="#b3191c" stroke-width="0.5" >18</text>
<text transform="translate(1283.8 2709.0) rotate(-90)" font-size="13.5" font-weight="bold" fill="#141414" textLength="80.0" lengthAdjust="spacingAndGlyphs" stroke="#141414" stroke-width="0.8" >3001 - 4000</text>
<rect x="1341.8" y="2466.7" width="21.7" height="146.3" fill="#6fa3dc" />
<rect x="1365.1" y="2471.0" width="20.0" height="142.0" fill="#b3191c" />
<text x="1352.6" y="2459.7" font-size="12.5" font-weight="bold" fill="#8a8a8a" text-anchor="middle" stroke="#8a8a8a" stroke-width="0.5" >17</text>
<text x="1375.1" y="2464.0" font-size="12.5" font-weight="bold" fill="#b3191c" text-anchor="middle" stroke="#b3191c" stroke-width="0.5" >16</text>
<text transform="translate(1365.9 2709.0) rotate(-90)" font-size="13.5" font-weight="bold" fill="#141414" textLength="80.0" lengthAdjust="spacingAndGlyphs" stroke="#141414" stroke-width="0.8" >4001 - 5000</text>
<rect x="1424.7" y="2522.0" width="21.7" height="91.0" fill="#6fa3dc" />
<rect x="1448.0" y="2520.9" width="18.4" height="92.1" fill="#b3191c" />
<text x="1435.5" y="2515.0" font-size="12.5" font-weight="bold" fill="#8a8a8a" text-anchor="middle" stroke="#8a8a8a" stroke-width="0.5" >11</text>
<text x="1457.2" y="2513.9" font-size="12.5" font-weight="bold" fill="#b3191c" text-anchor="middle" stroke="#b3191c" stroke-width="0.5" >11</text>
<text transform="translate(1448.0 2709.0) rotate(-90)" font-size="13.5" font-weight="bold" fill="#141414" textLength="80.0" lengthAdjust="spacingAndGlyphs" stroke="#141414" stroke-width="0.8" >5001 - 6000</text>
<rect x="1508.1" y="2564.2" width="17.9" height="48.8" fill="#6fa3dc" />
<rect x="1528.7" y="2554.5" width="21.7" height="58.5" fill="#b3191c" />
<text x="1517.1" y="2557.2" font-size="12.5" font-weight="bold" fill="#8a8a8a" text-anchor="middle" stroke="#8a8a8a" stroke-width="0.5" >6</text>
<text x="1539.5" y="2547.5" font-size="12.5" font-weight="bold" fill="#b3191c" text-anchor="middle" stroke="#b3191c" stroke-width="0.5" >7</text>
<text transform="translate(1531.7 2709.0) rotate(-90)" font-size="13.5" font-weight="bold" fill="#141414" textLength="80.0" lengthAdjust="spacingAndGlyphs" stroke="#141414" stroke-width="0.8" >6001 - 7000</text>
<rect x="1591.0" y="2585.9" width="19.0" height="27.1" fill="#6fa3dc" />
<rect x="1612.7" y="2577.8" width="20.6" height="35.2" fill="#b3191c" />
<text x="1600.5" y="2578.9" font-size="12.5" font-weight="bold" fill="#8a8a8a" text-anchor="middle" stroke="#8a8a8a" stroke-width="0.5" >3</text>
<text x="1623.0" y="2570.8" font-size="12.5" font-weight="bold" fill="#b3191c" text-anchor="middle" stroke="#b3191c" stroke-width="0.5" >4</text>
<text transform="translate(1614.7 2709.0) rotate(-90)" font-size="13.5" font-weight="bold" fill="#141414" textLength="80.0" lengthAdjust="spacingAndGlyphs" stroke="#141414" stroke-width="0.8" >7001 - 8000</text>
<rect x="1673.9" y="2599.5" width="17.3" height="13.5" fill="#6fa3dc" />
<rect x="1694.0" y="2592.4" width="21.7" height="20.6" fill="#b3191c" />
<text x="1682.6" y="2592.5" font-size="12.5" font-weight="bold" fill="#8a8a8a" text-anchor="middle" stroke="#8a8a8a" stroke-width="0.5" >2</text>
<text x="1704.8" y="2585.4" font-size="12.5" font-weight="bold" fill="#b3191c" text-anchor="middle" stroke="#b3191c" stroke-width="0.5" >3</text>
<text transform="translate(1697.3 2709.0) rotate(-90)" font-size="13.5" font-weight="bold" fill="#141414" textLength="80.0" lengthAdjust="spacingAndGlyphs" stroke="#141414" stroke-width="0.8" >8001 - 9000</text>
<rect x="1757.4" y="2584.8" width="17.9" height="28.2" fill="#6fa3dc" />
<rect x="1778.0" y="2577.8" width="21.7" height="35.2" fill="#b3191c" />
<text x="1766.3" y="2577.8" font-size="12.5" font-weight="bold" fill="#8a8a8a" text-anchor="middle" stroke="#8a8a8a" stroke-width="0.5" >3</text>
<text x="1788.8" y="2570.8" font-size="12.5" font-weight="bold" fill="#b3191c" text-anchor="middle" stroke="#b3191c" stroke-width="0.5" >4</text>
<text transform="translate(1781.0 2719.0) rotate(-90)" font-size="13.5" font-weight="bold" fill="#141414" textLength="90.0" lengthAdjust="spacingAndGlyphs" stroke="#141414" stroke-width="0.8" >9001 - 10000</text>
<rect x="1840.3" y="2588.6" width="19.0" height="24.4" fill="#6fa3dc" />
<rect x="1860.9" y="2584.8" width="21.7" height="28.2" fill="#b3191c" />
<text x="1849.8" y="2581.6" font-size="12.5" font-weight="bold" fill="#8a8a8a" text-anchor="middle" stroke="#8a8a8a" stroke-width="0.5" >3</text>
<text x="1871.7" y="2577.8" font-size="12.5" font-weight="bold" fill="#b3191c" text-anchor="middle" stroke="#b3191c" stroke-width="0.5" >3</text>
<text transform="translate(1863.9 2681.0) rotate(-90)" font-size="13.5" font-weight="bold" fill="#141414" textLength="52.0" lengthAdjust="spacingAndGlyphs" stroke="#141414" stroke-width="0.8" >+ 10000</text>
<rect x="1686.0" y="2473.7" width="9.0" height="9.0" fill="#9cc0e6" />
<text x="1699.0" y="2483.7" font-size="13.5" font-weight="bold" fill="#222" text-anchor="start" textLength="38.0" lengthAdjust="spacingAndGlyphs" stroke="#222" stroke-width="0.5" >2019</text>
<rect x="1752.0" y="2473.7" width="9.0" height="9.0" fill="#b3191c" />
<text x="1766.0" y="2483.7" font-size="13.5" font-weight="bold" fill="#222" text-anchor="start" textLength="40.0" lengthAdjust="spacingAndGlyphs" stroke="#222" stroke-width="0.5" >2020</text>
</g>
<g filter="url(#b2)">
<text x="1696.0" y="2739.2" font-size="15.5" font-weight="bold" fill="#5b58a6" text-anchor="start" textLength="135.0" lengthAdjust="spacingAndGlyphs" stroke="#5b58a6" stroke-width="0.5" >GAME CHANGERS</text>
<rect x="1857.5" y="2712.2" width="34.0" height="31.5" fill="url(#ip)" />
<circle cx="1877.0" cy="2725.7" r="8.0" fill="#2f86c4" opacity="0.8"/>
</g>
<path d="M592.20 336.20H1940.01" stroke="#4a6e6b" stroke-width="5.3" stroke-linecap="round" fill="none" stroke-dasharray="0 10.4481"/>
<path d="M592.20 1128.00H1940.01" stroke="#4a6e6b" stroke-width="5.3" stroke-linecap="round" fill="none" stroke-dasharray="0 10.4481"/>
<path d="M592.20 336.20V1128.01" stroke="#4a6e6b" stroke-width="5.3" stroke-linecap="round" fill="none" stroke-dasharray="0 10.4184"/>
<path d="M1940.00 336.20V1128.01" stroke="#4a6e6b" stroke-width="5.3" stroke-linecap="round" fill="none" stroke-dasharray="0 10.4184"/>
<path d="M592.20 1170.00H1940.01" stroke="#4a6e6b" stroke-width="5.3" stroke-linecap="round" fill="none" stroke-dasharray="0 10.4481"/>
<path d="M592.20 1961.80H1940.01" stroke="#4a6e6b" stroke-width="5.3" stroke-linecap="round" fill="none" stroke-dasharray="0 10.4481"/>
<path d="M592.20 1170.00V1961.81" stroke="#4a6e6b" stroke-width="5.3" stroke-linecap="round" fill="none" stroke-dasharray="0 10.4184"/>
<path d="M1940.00 1170.00V1961.81" stroke="#4a6e6b" stroke-width="5.3" stroke-linecap="round" fill="none" stroke-dasharray="0 10.4184"/>
<path d="M592.20 2003.70H1940.01" stroke="#4a6e6b" stroke-width="5.3" stroke-linecap="round" fill="none" stroke-dasharray="0 10.4481"/>
<path d="M592.20 2795.50H1940.01" stroke="#4a6e6b" stroke-width="5.3" stroke-linecap="round" fill="none" stroke-dasharray="0 10.4481"/>
<path d="M592.20 2003.70V2795.51" stroke="#4a6e6b" stroke-width="5.3" stroke-linecap="round" fill="none" stroke-dasharray="0 10.4184"/>
<path d="M1940.00 2003.70V2795.51" stroke="#4a6e6b" stroke-width="5.3" stroke-linecap="round" fill="none" stroke-dasharray="0 10.4184"/>
</svg>
<svg class="pn" width="2067" height="2923" viewBox="0 0 2067 2923" font-family="Liberation Sans, sans-serif">
<circle cx="1411.8" cy="2872.3" r="9.3" fill="#231f20"/>
<text transform="translate(1411.8 2877.8) scale(0.68 1)" text-anchor="middle" font-weight="bold" font-size="15.5" fill="#fff">IN</text>
<text transform="translate(1431.2 2881.5) scale(0.79 1)" font-weight="bold" font-size="25.5" fill="#231f20" stroke="#231f20" stroke-width="1.1" stroke-linejoin="round">STORE</text>
<path d="M1512.9 2862.5V2881.5" stroke="#ec1c24" stroke-width="1.7" stroke-dasharray="1.7 2.1" fill="none"/>
<text transform="translate(1524.5 2881.5) scale(0.931 1)" font-weight="bold" font-size="25.5" fill="#231f20">januar 2021</text>
<path d="M1662.7 2862.5V2881.5" stroke="#ec1c24" stroke-width="1.7" stroke-dasharray="1.7 2.1" fill="none"/>
<text transform="translate(1675 2881.5) scale(0.939 1)" font-size="25.5" fill="#231f20">www.instore.rs</text>
<text transform="translate(1895 2882.6) scale(0.925 1)" font-weight="bold" font-size="28.5" fill="#231f20" stroke="#231f20" stroke-width="1.2" stroke-linejoin="round">107</text>
</svg>
</body>
</html>
